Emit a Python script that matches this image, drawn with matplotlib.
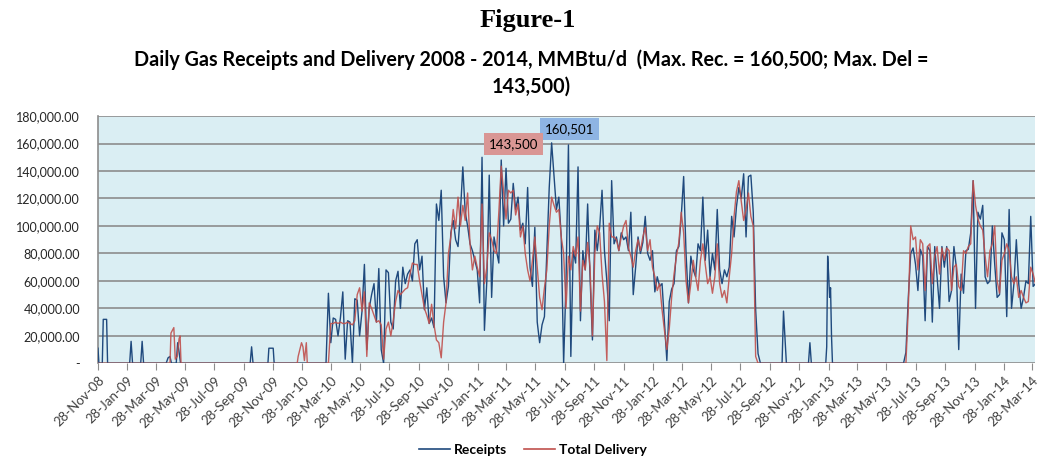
import numpy as np
import pandas as pd
import matplotlib
matplotlib.use('Agg')
import matplotlib.pyplot as plt
import matplotlib.ticker as mticker
from matplotlib.lines import Line2D

# values in thousand MMBtu/d
# short isolated flows (dates + values), both idle stretches
REC_BLIP_DATES = [
    '2008-11-28', '2008-11-30', '2008-12-07', '2008-12-09', '2008-12-16', '2008-12-18',
    '2009-02-02', '2009-02-05', '2009-02-08', '2009-02-25', '2009-02-28', '2009-03-03',
    '2009-04-19', '2009-04-23', '2009-04-27', '2009-04-30', '2009-05-10', '2009-05-13',
    '2009-05-16', '2009-05-19', '2009-10-11', '2009-10-14', '2009-10-17', '2009-11-17',
    '2009-11-19', '2009-11-28', '2009-11-30', '2010-03-14',
    '2012-10-23', '2012-10-26', '2012-10-29', '2012-11-01', '2012-12-17', '2012-12-20',
    '2012-12-23', '2013-01-22', '2013-01-24', '2013-01-26', '2013-01-28', '2013-01-30',
    '2013-02-01', '2013-02-03', '2013-02-05', '2013-07-03',
]
REC_BLIP_VALS = [
    11, 0, 0, 32, 32, 0,
    0, 16, 0, 0, 16, 0,
    0, 4, 5, 0, 0, 15,
    8, 0, 0, 12, 0, 0,
    11, 11, 0, 0,
    0, 38, 19, 0, 0, 15,
    0, 0, 12, 78, 65, 48,
    55, 20, 0, 0,
]
DEL_BLIP_DATES = [
    '2008-11-28', '2009-04-27', '2009-04-29', '2009-05-02', '2009-05-05', '2009-05-08',
    '2009-05-12', '2009-05-16', '2009-05-18', '2009-05-20', '2010-01-17', '2010-01-19',
    '2010-01-26', '2010-01-29', '2010-02-01', '2010-02-05', '2010-02-07',
]
DEL_BLIP_VALS = [
    0, 0, 22, 24, 26, 3,
    5, 18, 20, 0, 0, 5,
    15, 12, 2, 15, 0,
]

# main active stretches, one value every 5 days
P1_START = '2010-03-18'
REC_P1 = [
    0, 51, 15, 33, 32, 20, 33, 52, 3, 31,
    30, 0, 47, 46, 20, 38, 72, 10, 40, 50,
    58, 30, 69, 10, 0, 68, 66, 30, 25, 60,
    67, 40, 70, 58, 65, 68, 60, 87, 90, 68,
    78, 39, 55, 29, 33, 26, 116, 104, 126, 63,
    44, 56, 95, 104, 90, 85, 110, 143, 110, 100,
    87, 82, 75, 68, 44, 150, 24, 60, 137, 48,
    92, 82, 73, 148, 100, 142, 102, 105, 131, 112,
    121, 97, 102, 87, 128, 70, 56, 99, 30, 15,
    28, 34, 82, 128, 160.501, 136, 112, 121, 92, 0,
    60, 159, 5, 82, 73, 143, 31, 82, 68, 116,
    63, 17, 97, 82, 99, 126, 82, 60, 31, 133,
    87, 92, 82, 95, 90, 92, 82, 110, 50, 70,
    92, 80, 88, 107, 80, 75, 82, 52, 63, 56,
    58, 30, 2, 45, 54, 58, 82, 85, 107, 136,
    80, 44, 78, 68, 63, 87, 82, 121, 75, 97,
    63, 80, 68, 112, 68, 58, 68, 63, 70, 107,
    92, 114, 128, 120, 138, 92, 136, 137, 110, 39,
    7, 0,
]
DEL_P1 = [
    0, 0, 29, 29, 30, 29, 30, 29, 29, 30,
    29, 28, 31, 50, 55, 38, 52, 5, 44, 40,
    35, 30, 31, 28, 3, 25, 30, 20, 31, 45,
    53, 50, 52, 54, 55, 65, 73, 72, 72, 60,
    50, 40, 35, 29, 43, 28, 17, 15, 4, 30,
    44, 80, 92, 112, 98, 121, 100, 115, 104, 124,
    87, 68, 78, 70, 63, 116, 58, 70, 95, 90,
    82, 80, 110, 143.5, 125, 105, 126, 124, 126, 108,
    116, 92, 100, 80, 68, 60, 75, 92, 70, 48,
    39, 55, 68, 100, 121, 115, 110, 112, 92, 80,
    40, 78, 68, 85, 78, 92, 38, 75, 68, 88,
    70, 20, 80, 100, 95, 65, 45, 2, 102, 92,
    92, 90, 82, 92, 100, 104, 84, 78, 70, 82,
    90, 82, 92, 99, 82, 90, 70, 63, 53, 58,
    39, 24, 10, 25, 48, 65, 78, 88, 110, 95,
    60, 44, 58, 75, 63, 53, 75, 87, 72, 58,
    63, 51, 63, 87, 58, 48, 53, 44, 63, 80,
    107, 125, 133, 118, 104, 112, 124, 107, 100, 5,
    0, 0,
]
P2_START = '2013-07-08'
REC_P2 = [
    8, 48, 80, 84, 72, 53, 83, 78, 31, 85,
    82, 30, 85, 62, 40, 85, 70, 85, 45, 53,
    85, 70, 10, 65, 51, 82, 83, 95, 133, 40,
    110, 105, 115, 63, 58, 60, 100, 72, 48, 50,
    95, 90, 34, 112, 40, 58, 90, 58, 40, 48,
    60, 58, 107, 56, 58,
]
DEL_P2 = [
    0, 40, 100, 90, 92, 68, 90, 87, 53, 85,
    87, 58, 78, 85, 65, 84, 75, 84, 82, 53,
    70, 72, 56, 53, 82, 80, 85, 87, 133, 115,
    105, 100, 97, 78, 63, 82, 87, 100, 60, 51,
    75, 80, 87, 82, 63, 58, 63, 48, 53, 48,
    44, 45, 70, 65, 58,
]

BLUE = '#1F497D'
RED = '#C0504D'
FONT = ['Lato', 'DejaVu Sans']


def build(blip_dates, blip_vals, segments):
    parts = [pd.Series(blip_vals, index=pd.to_datetime(blip_dates), dtype=float)]
    for start, vals in segments:
        idx = pd.date_range(start, periods=len(vals), freq='5D')
        parts.append(pd.Series(vals, index=idx, dtype=float))
    return pd.concat(parts).sort_index() * 1000


rec = build(REC_BLIP_DATES, REC_BLIP_VALS, [(P1_START, REC_P1), (P2_START, REC_P2)])
dlv = build(DEL_BLIP_DATES, DEL_BLIP_VALS, [(P1_START, DEL_P1), (P2_START, DEL_P2)])

plt.rcParams['font.family'] = FONT
fig = plt.figure(figsize=(10.39, 4.57), dpi=100)
ax = fig.add_axes([0.0943, 0.205, 0.9019, 0.541])
ax.set_facecolor('#DAEEF3')

ax.plot(rec.index, rec.values, color=BLUE, lw=1.0, zorder=3)
ax.plot(dlv.index, dlv.values, color=RED, lw=1.0, alpha=0.9, zorder=4)

ax.set_ylim(0, 180000)
ax.set_xlim(pd.Timestamp('2008-11-28'), pd.Timestamp('2014-04-03'))
ax.yaxis.set_major_locator(mticker.MultipleLocator(20000))
ax.yaxis.set_major_formatter(mticker.FuncFormatter(
    lambda v, p: '-' if v == 0 else f'{v:,.2f}'))
ax.grid(axis='y', color='#8C8C8C', lw=1.2, zorder=1)
ax.set_axisbelow(True)

ticks = pd.date_range('2008-11-01', '2014-03-01', freq='2MS') + pd.Timedelta(days=27)
ax.set_xticks(ticks)
ax.set_xticklabels([t.strftime('%d-%b-%y') for t in ticks], rotation=45,
                   ha='right', rotation_mode='anchor', fontsize=9.5, color='#404040')
ax.tick_params(axis='x', length=5, color='#8C8C8C', pad=3)
ax.tick_params(axis='y', length=0, labelsize=9, labelcolor='#262626', pad=13)

for s in ['top', 'right', 'bottom']:
    ax.spines[s].set_visible(False)
ax.spines['left'].set_color('#8C8C8C')
ax.spines['left'].set_linewidth(1.2)

# max labels
imax = rec.values.argmax()
ax.annotate(f'{rec.max():,.0f}',
            xy=(rec.index[imax], rec.values[imax]), xytext=(13, 10),
            textcoords='offset points', ha='center', va='center', fontsize=9.5,
            bbox=dict(boxstyle='square,pad=0.35', fc='#8EB4E3', ec='none'), zorder=6)
jmax = dlv.values.argmax()
ax.annotate(f'{dlv.max():,.0f}',
            xy=(dlv.index[jmax], dlv.values[jmax]), xytext=(9, 16),
            textcoords='offset points', ha='center', va='center', fontsize=9.5,
            bbox=dict(boxstyle='square,pad=0.35', fc='#D99694', ec='none'), zorder=6)

fig.text(0.508, 0.955, 'Figure-1', ha='center', va='center', fontsize=19,
         fontweight='bold', family='Liberation Serif')
fig.text(0.511, 0.84,
         'Daily Gas Receipts and Delivery 2008 - 2014, MMBtu/d  (Max. Rec. = 160,500; Max. Del =\n143,500)',
         ha='center', va='center', fontsize=14.2, fontweight='bold', linespacing=1.45)

handles = [Line2D([], [], color=BLUE, lw=1.2), Line2D([], [], color=RED, lw=1.2)]
fig.legend(handles, ['Receipts', 'Total Delivery'], loc='center', ncol=2,
           bbox_to_anchor=(0.513, 0.015), frameon=False, handlelength=2.2,
           handletextpad=0.3, columnspacing=1.2,
           prop={'weight': 'bold', 'size': 10})

fig.savefig('out.png', dpi=100)
